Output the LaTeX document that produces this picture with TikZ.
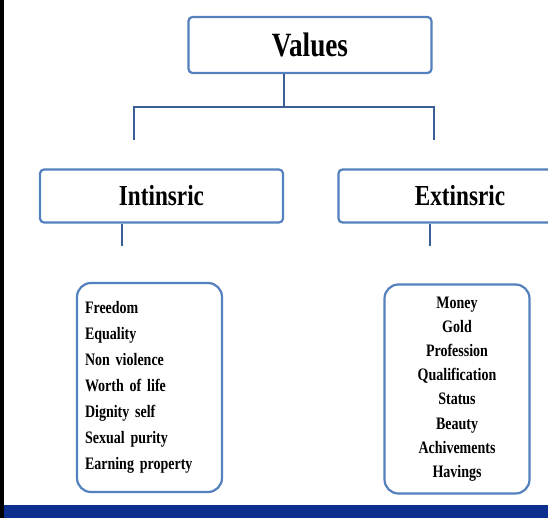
\documentclass[tikz,border=0pt]{standalone}
\usepackage{fontspec}
\setmainfont{Liberation Serif}[FakeStretch=0.8]
\usepackage{xcolor}
\usepackage{tikz}
\usetikzlibrary{positioning}

\definecolor{boxblue}{RGB}{84,128,190}
\definecolor{linkblue}{RGB}{60,94,150}
\definecolor{barblue}{RGB}{12,46,140}
\newcommand\tightsp{\spaceskip=3pt\relax}

\begin{document}
\begin{tikzpicture}[x=1pt, y=-1pt,
    head/.style={draw=boxblue, line width=2.2pt, rounded corners=4pt, fill=white,
      minimum width=243pt, minimum height=53pt, inner sep=0pt,
      font=\bfseries\fontsize{29}{34}\selectfont},
    listbox/.style={draw=boxblue, line width=2.2pt, rounded corners=14pt, fill=white,
      minimum width=145pt, minimum height=209pt, inner sep=8pt,
      font=\bfseries\fontsize{17.5}{26}\selectfont\tightsp},
    link/.style={draw=linkblue, line width=2.6pt}]
    \useasboundingbox (0,0) rectangle (548,518);
    % Frame
    \fill[white] (0,0) rectangle (548,518);
    \fill[black] (0,0) rectangle (3.5,518);
    \fill[barblue] (3.5,505) rectangle (548,518);

    % Boxes
    \node[head, minimum height=56pt, font=\bfseries\fontsize{34}{40}\selectfont]
                                  (values) at (310,45)   {Values};
    \node[head]                   (intr)   at (161.5,196) {Intinsric};
    \node[head]                   (extr)   at (460,196)  {Extinsric};
    \node[listbox, align=left, text width=129pt]
                                  (intrlist) at (149.5,387.5)
      {Freedom\\Equality\\Non violence\\Worth of life\\Dignity self\\Sexual purity\\Earning property};
    \node[listbox, align=center, text width=128pt,
      font=\bfseries\fontsize{17.5}{24.2}\selectfont]
                                  (extrlist) at (457,389)
      {Money\\Gold\\Profession\\Qualification\\Status\\Beauty\\Achivements\\Havings};

    % Connectors
    \coordinate (hub)   at (284,107);
    \coordinate (ldrop) at (134,140);
    \coordinate (rdrop) at (434,140);
    \coordinate (lend)  at (122,246);
    \coordinate (rend)  at (430,246);
    \draw[link] (hub |- values.south) -- (hub);
    \draw[link] (ldrop) |- (hub) -| (rdrop);
    \draw[link] (lend |- intr.south) -- (lend);
    \draw[link] (rend |- extr.south) -- (rend);
\end{tikzpicture}
\end{document}
